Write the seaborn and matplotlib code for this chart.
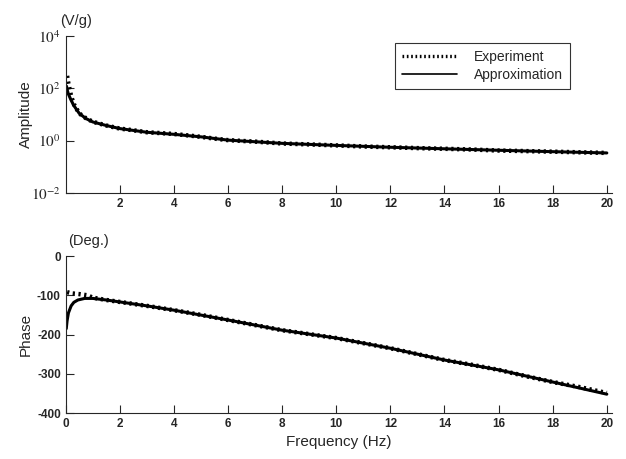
import numpy as np
import pandas as pd
import matplotlib
matplotlib.use("Agg")
import matplotlib.pyplot as plt
import seaborn as sns

# --- data ---
amp_exp_freq = [0.05, 0.1, 0.2, 0.3, 0.5, 0.75, 1.0, 1.5, 2.0, 2.5, 3.0, 3.5, 4.0, 4.5, 5.0,
                5.5, 6.0, 6.5, 7.0, 7.5, 8.0, 9.0, 10.0, 11.0, 12.0, 13.0, 14.0, 15.0, 16.0,
                17.0, 18.0, 19.0, 20.0]
amp_exp = [300, 150, 50, 25, 11, 7.2, 5.3, 3.8, 2.9, 2.5, 2.1, 1.95, 1.8, 1.6, 1.4,
           1.2, 1.05, 0.98, 0.92, 0.85, 0.78, 0.72, 0.66, 0.60, 0.56, 0.52, 0.49, 0.46, 0.42,
           0.40, 0.38, 0.36, 0.34]

amp_apx_freq = [0.03, 0.05, 0.1, 0.2, 0.3, 0.5, 0.75, 1.0, 1.5, 2.0, 3.0, 4.0, 5.0, 6.0,
                8.0, 10.0, 12.0, 14.0, 16.0, 18.0, 20.0]
amp_apx = [120, 90, 60, 35, 22, 11, 7.0, 5.2, 3.8, 2.9, 2.1, 1.75, 1.4, 1.05,
           0.79, 0.66, 0.56, 0.49, 0.43, 0.38, 0.34]

ph_exp_freq = [0.05, 0.2, 0.5, 0.8, 1.0, 1.5, 2.0, 3.0, 4.0, 5.0, 6.0, 7.0, 8.0, 9.0, 10.0,
               11.0, 12.0, 13.0, 14.0, 15.0, 16.0, 17.0, 18.0, 19.0, 20.0]
ph_exp = [-92, -95, -97, -100, -106, -112, -117, -127, -138, -150, -163, -176, -189, -199, -209,
          -222, -235, -250, -265, -277, -290, -306, -321, -334, -349]

ph_apx_freq = [0.02, 0.05, 0.1, 0.2, 0.3, 0.45, 0.7, 1.0, 1.5, 2.0, 3.0, 4.0, 6.0, 8.0, 10.0,
               12.0, 14.0, 16.0, 18.0, 20.0]
ph_apx = [-185, -165, -145, -127, -118, -112, -108, -108, -112, -117, -127, -138, -163, -189, -209,
          -235, -265, -290, -321, -352]

amp_ticks = [1e-2, 1e0, 1e2, 1e4]
amp_tick_labels = [r'$10^{-2}$', r'$10^{0}$', r'$10^{2}$', r'$10^{4}$']
freq_ticks_top = [2, 4, 6, 8, 10, 12, 14, 16, 18, 20]
freq_ticks_bot = [0, 2, 4, 6, 8, 10, 12, 14, 16, 18, 20]
phase_ticks = [0, -100, -200, -300, -400]

sns.set_style("ticks")
plt.rcParams['font.family'] = ['Liberation Sans', 'DejaVu Sans']
plt.rcParams['mathtext.fontset'] = 'stix'

fig = plt.figure(figsize=(6.26, 4.59), dpi=100)
ax1 = fig.add_axes([0.105, 0.5795, 0.873, 0.342])
ax2 = fig.add_axes([0.105, 0.1002, 0.873, 0.342])

amp_e = pd.DataFrame({'f': amp_exp_freq, 'v': amp_exp})
amp_a = pd.DataFrame({'f': amp_apx_freq, 'v': amp_apx})
ph_e = pd.DataFrame({'f': ph_exp_freq, 'v': ph_exp})
ph_a = pd.DataFrame({'f': ph_apx_freq, 'v': ph_apx})

for ax, e, a in [(ax1, amp_e, amp_a), (ax2, ph_e, ph_a)]:
    sns.lineplot(data=a, x='f', y='v', ax=ax, color='black', lw=2.2, label='Approximation')
    sns.lineplot(data=e, x='f', y='v', ax=ax, color='black', lw=3.2,
                 linestyle=(0, (0.5, 0.8)), label='Experiment')
    sns.despine(ax=ax)
    ax.set_xlim(0, 20.2)
    ax.tick_params(direction='in', length=6, width=0.8, labelsize=8.5)
    ax.set_xlabel('')
    ax.yaxis.set_label_coords(-0.06, 0.5)

# top: amplitude
ax1.set_yscale('log')
ax1.set_ylim(1e-2, 1e4)
ax1.set_yticks(amp_ticks)
ax1.set_yticklabels(amp_tick_labels, fontsize=11)
ax1.yaxis.set_minor_locator(plt.NullLocator())
ax1.set_xticks(freq_ticks_top)
ax1.set_xticklabels([str(t) for t in freq_ticks_top], fontweight='bold')
ax1.set_ylabel('Amplitude', fontsize=11)
ax1.text(-0.01, 1.07, '(V/g)', transform=ax1.transAxes, fontsize=10.5)
h, l = ax1.get_legend_handles_labels()
leg = ax1.legend(h[::-1], l[::-1], loc='upper right', bbox_to_anchor=(0.935, 1.0),
                 fontsize=10, frameon=True, fancybox=False, edgecolor='black',
                 handlelength=4.0, handletextpad=1.2, borderpad=0.5, labelspacing=0.3)
leg.get_frame().set_linewidth(0.8)
leg_lines = leg.get_lines()
leg_lines[0].set_linewidth(2.4)
leg_lines[1].set_linewidth(1.2)

# bottom: phase
ax2.set_ylim(-400, 0)
ax2.set_yticks(phase_ticks)
ax2.set_yticklabels([str(t) for t in phase_ticks], fontweight='bold')
ax2.set_xticks(freq_ticks_bot)
ax2.set_xticklabels([str(t) for t in freq_ticks_bot], fontweight='bold')
ax2.set_ylabel('Phase', fontsize=11)
ax2.text(0.005, 1.07, '(Deg.)', transform=ax2.transAxes, fontsize=10.5)
ax2.set_xlabel('Frequency (Hz)', fontsize=11)
ax2.get_legend().remove()

fig.savefig('out.png', dpi=100)
